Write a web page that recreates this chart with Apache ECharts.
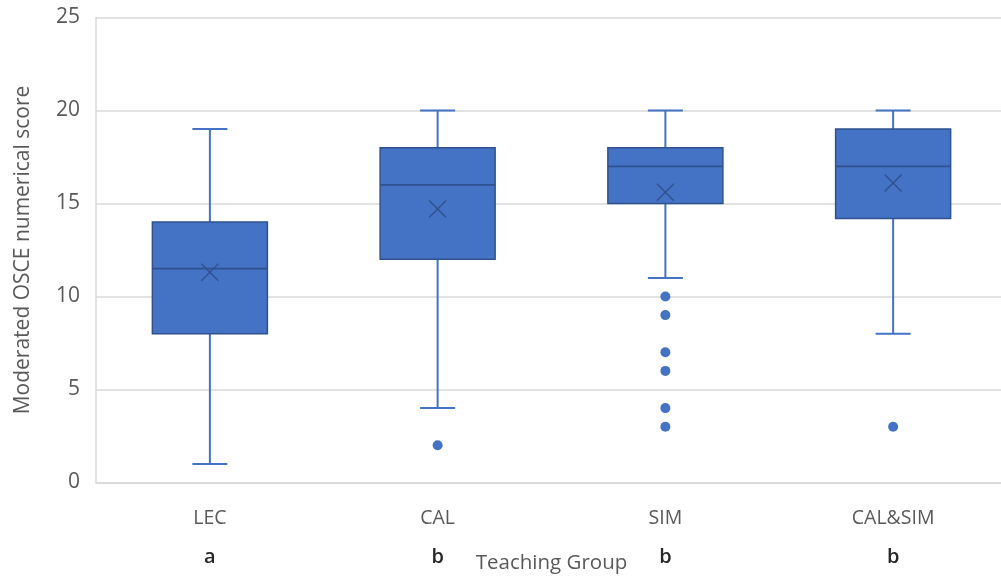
<!DOCTYPE html>
<html>
<head>
<meta charset="utf-8">
<script src="https://cdn.jsdelivr.net/npm/echarts@6/dist/echarts.min.js"></script>
<style>
html,body{margin:0;padding:0;background:#fff;}
#c{width:1001px;height:576px;}
</style>
</head>
<body>
<div id="c"></div>
<script>
// Data
var categories = ['LEC', 'CAL', 'SIM', 'CAL&SIM'];
var groupLetters = ['a', 'b', 'b', 'b'];
var mins    = [1, 4, 11, 8];
var q1s     = [8, 12, 15, 14.2];
var medians = [11.5, 16, 17, 17];
var q3s     = [14, 18, 18, 19];
var maxs    = [19, 20, 20, 20];
var means   = [11.3, 14.7, 15.6, 16.1];
var outliersCAL = [2];
var outliersSIM = [10, 9, 7, 6, 4, 3];
var outliersCALSIM = [3];
var yTicks = [0, 5, 10, 15, 20, 25];

var boxData = categories.map(function (c, i) {
  return [i, mins[i], q1s[i], medians[i], q3s[i], maxs[i], means[i]];
});
var outlierData = [];
outliersCAL.forEach(function (v) { outlierData.push([1, v]); });
outliersSIM.forEach(function (v) { outlierData.push([2, v]); });
outliersCALSIM.forEach(function (v) { outlierData.push([3, v]); });

var FILL = '#4472C4', EDGE = '#2F528F';

function renderBox(params, api) {
  var idx = api.value(0);
  var band = api.size([1, 0])[0];
  var bw = band * 0.505;
  var cap = 35;
  var pMin = api.coord([idx, api.value(1)]);
  var pQ1 = api.coord([idx, api.value(2)]);
  var pMed = api.coord([idx, api.value(3)]);
  var pQ3 = api.coord([idx, api.value(4)]);
  var pMax = api.coord([idx, api.value(5)]);
  var pMean = api.coord([idx, api.value(6)]);
  var cx = pQ1[0];
  var x0 = cx - bw / 2;
  var xs = 8.5;
  var wStyle = { stroke: FILL, lineWidth: 2 };
  return {
    type: 'group',
    children: [
      { type: 'line', shape: { x1: cx, y1: pQ3[1], x2: cx, y2: pMax[1] }, style: wStyle },
      { type: 'line', shape: { x1: cx, y1: pQ1[1], x2: cx, y2: pMin[1] }, style: wStyle },
      { type: 'line', shape: { x1: cx - cap / 2, y1: pMax[1], x2: cx + cap / 2, y2: pMax[1] }, style: wStyle },
      { type: 'line', shape: { x1: cx - cap / 2, y1: pMin[1], x2: cx + cap / 2, y2: pMin[1] }, style: wStyle },
      { type: 'rect', shape: { x: x0, y: pQ3[1], width: bw, height: pQ1[1] - pQ3[1] },
        style: { fill: FILL, stroke: EDGE, lineWidth: 1.5 } },
      { type: 'line', shape: { x1: x0, y1: pMed[1], x2: x0 + bw, y2: pMed[1] },
        style: { stroke: EDGE, lineWidth: 1.8 } },
      { type: 'line', shape: { x1: cx - xs, y1: pMean[1] - xs, x2: cx + xs, y2: pMean[1] + xs },
        style: { stroke: EDGE, lineWidth: 1.5 } },
      { type: 'line', shape: { x1: cx - xs, y1: pMean[1] + xs, x2: cx + xs, y2: pMean[1] - xs },
        style: { stroke: EDGE, lineWidth: 1.5 } }
    ]
  };
}

var chart = echarts.init(document.getElementById('c'), null, { renderer: 'canvas' });
var FONT = '"Open Sans", "Noto Sans", sans-serif';
chart.setOption({
  animation: false,
  backgroundColor: '#fff',
  grid: { left: 96, right: -6, top: 17.5, bottom: 93.5, containLabel: false, outerBoundsMode: 'none' },
  xAxis: {
    type: 'category',
    data: categories,
    boundaryGap: true,
    axisLine: { show: true, lineStyle: { color: '#d9d9d9', width: 1.5 } },
    axisTick: { show: false },
    splitLine: { show: false },
    axisLabel: {
      margin: 22,
      interval: 0,
      formatter: function (v, i) { return '{n|' + v + '}\n{g|' + groupLetters[i] + '}'; },
      rich: {
        n: { fontFamily: FONT, fontSize: 19.5, color: '#595959', lineHeight: 28 },
        g: { fontFamily: FONT, fontSize: 20, fontWeight: 600, color: '#262626', lineHeight: 50 }
      }
    },
    name: 'Teaching Group',
    nameLocation: 'middle',
    nameGap: 70,
    nameMoveOverlap: false,
    nameTextStyle: { fontFamily: FONT, fontSize: 20.5, color: '#595959' }
  },
  yAxis: {
    type: 'value',
    min: 0, max: 25, interval: 5,
    axisLine: { show: true, lineStyle: { color: '#d9d9d9', width: 1.5 } },
    axisTick: { show: false },
    splitLine: { show: true, lineStyle: { color: '#d9d9d9', width: 1.5 } },
    axisLabel: {
      margin: 16,
      fontFamily: FONT, fontSize: 21, color: '#595959',
      formatter: function (v) { return yTicks.indexOf(v) >= 0 ? String(v) : ''; }
    },
    name: 'Moderated OSCE numerical score',
    nameLocation: 'middle',
    nameGap: 62,
    nameMoveOverlap: false,
    nameTextStyle: { fontFamily: FONT, fontSize: 21, color: '#595959' }
  },
  series: [
    {
      type: 'custom',
      renderItem: renderBox,
      encode: { x: 0, y: [1, 2, 3, 4, 5] },
      data: boxData,
      z: 2
    },
    {
      type: 'scatter',
      data: outlierData,
      symbol: 'circle',
      symbolSize: 10,
      itemStyle: { color: FILL, opacity: 1 },
      z: 3
    }
  ]
});
</script>
</body>
</html>
